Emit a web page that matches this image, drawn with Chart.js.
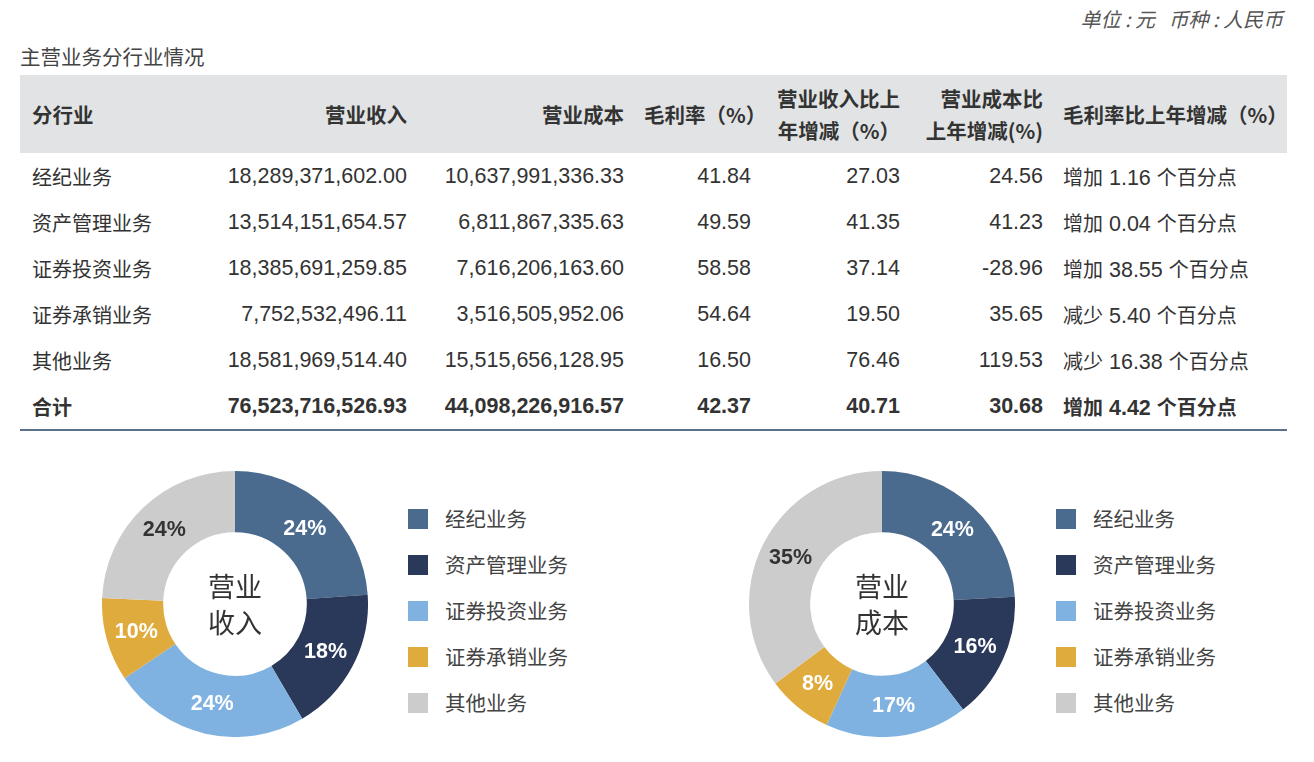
<!DOCTYPE html>
<html>
<head>
<meta charset="utf-8">
<script src="https://cdn.jsdelivr.net/npm/chart.js@4"></script>
<style>
  body { margin: 0; width: 1314px; height: 762px; background: #fff; position: relative; overflow: hidden;
         font-family: "Liberation Sans", "Noto Sans CJK SC", sans-serif; color: #333; }
  .cjk { font-family: "Noto Sans CJK SC", sans-serif; }
  #unit { position: absolute; right: 31px; top: 4px; font-size: 20px; color: #555; font-style: italic; white-space: pre; }
  #title { position: absolute; left: 20px; top: 41px; font-size: 20.5px; color: #444; }
  table { position: absolute; left: 20px; top: 75px; width: 1267px; border-collapse: collapse; table-layout: fixed; }
  th { background: #e2e3e4; height: 78px; font-size: 20.5px; font-weight: bold; color: #333; padding: 0 10px; line-height: 32px; white-space: nowrap; }
  td { height: 46px; font-size: 21.5px; color: #333; padding: 0 10px; white-space: nowrap; }
  td.cjk, td span.cjk { font-size: 20px; }
  .l { text-align: left; padding-left: 12px; }
  .r { text-align: right; }
  .last { text-align: left; padding-left: 10px; }
  tr.total td { font-weight: bold; }
  tr.total { border-bottom: 2px solid #5b7189; }
  .donut { position: absolute; width: 266px; height: 266px; top: 471px; }
  .legend { position: absolute; top: 507px; font-size: 20.5px; color: #444; }
  .legend div { height: 46px; display: flex; align-items: flex-start; }
  .legend span.box { display: inline-block; width: 20px; height: 20px; margin-top: 2px; margin-right: 17px; }
  .legend span.txt { line-height: 23px; }
</style>
</head>
<body>
<div id="unit" class="cjk">单位 : 元   币种 : 人民币</div>
<div id="title" class="cjk">主营业务分行业情况</div>
<table id="tbl"></table>

<div class="donut" style="left:102px"><canvas id="revChart"></canvas></div>
<div class="donut" style="left:749px"><canvas id="costChart"></canvas></div>
<div class="legend cjk" id="legend1" style="left:408px"></div>
<div class="legend cjk" id="legend2" style="left:1056px"></div>

<script>
// 数据
const categories = ["经纪业务", "资产管理业务", "证券投资业务", "证券承销业务", "其他业务"];
const revenue = [18289371602.00, 13514151654.57, 18385691259.85, 7752532496.11, 18581969514.40];
const cost = [10637991336.33, 6811867335.63, 7616206163.60, 3516505952.06, 15515656128.95];
const grossMargin = [41.84, 49.59, 58.58, 54.64, 16.50];
const revenueChange = [27.03, 41.35, 37.14, 19.50, 76.46];
const costChange = [24.56, 41.23, -28.96, 35.65, 119.53];
const marginChange = ["增加 1.16", "增加 0.04", "增加 38.55", "减少 5.40", "减少 16.38"];
const total = ["合计", "76,523,716,526.93", "44,098,226,916.57", "42.37", "40.71", "30.68", "增加 4.42"];
const revenuePctLabels = ["24%", "18%", "24%", "10%", "24%"];
const costPctLabels = ["24%", "16%", "17%", "8%", "35%"];

const colors = ["#4a6a8e", "#2a3859", "#7fb2e0", "#e0ab3d", "#cccccc"];

// 表格
const fmt = v => v.toLocaleString("en-US", { minimumFractionDigits: 2, maximumFractionDigits: 2 });
const cjkNum = s => s.replace(/^(\S+)\s/, '<span class="cjk">$1</span> ') + ' <span class="cjk">个百分点</span>';

let html = '<colgroup><col style="width:180px"><col style="width:217px"><col style="width:217px">' +
  '<col style="width:127px"><col style="width:149px"><col style="width:143px"><col style="width:234px"></colgroup>';
html += '<tr class="cjk"><th class="l">分行业</th><th class="r">营业收入</th><th class="r">营业成本</th>' +
  '<th class="r" style="padding-right:9px">毛利率（%）</th><th class="r">营业收入比上<br>年增减（%）</th>' +
  '<th class="r">营业成本比<br>上年增减(%)</th><th class="last">毛利率比上年增减（%）</th></tr>';
categories.forEach((c, i) => {
  html += '<tr><td class="l cjk">' + c + '</td><td class="r">' + fmt(revenue[i]) + '</td><td class="r">' + fmt(cost[i]) +
    '</td><td class="r">' + grossMargin[i].toFixed(2) + '</td><td class="r">' + revenueChange[i].toFixed(2) +
    '</td><td class="r">' + costChange[i].toFixed(2) + '</td><td class="last">' + cjkNum(marginChange[i]) + '</td></tr>';
});
html += '<tr class="total"><td class="l cjk">' + total[0] + '</td>';
for (let k = 1; k < 6; k++) html += '<td class="r">' + total[k] + '</td>';
html += '<td class="last">' + cjkNum(total[6]) + '</td></tr>';
document.getElementById("tbl").innerHTML = html;

// 图例
["legend1", "legend2"].forEach(id => {
  document.getElementById(id).innerHTML = categories.map((c, i) =>
    '<div><span class="box" style="background:' + colors[i] + '"></span><span class="txt">' + c + '</span></div>').join("");
});

// 标签 + 中心文字
const donutText = {
  id: "donutText",
  afterDatasetsDraw(chart, args, opts) {
    const ctx = chart.ctx;
    const meta = chart.getDatasetMeta(0);
    ctx.save();
    ctx.textAlign = "center";
    ctx.textBaseline = "middle";
    ctx.font = "bold 21.5px 'Liberation Sans', Arial, sans-serif";
    meta.data.forEach((arc, i) => {
      const p = arc.getCenterPoint();
      ctx.fillStyle = i === 4 ? "#333" : "#fff";
      ctx.fillText(opts.labels[i], p.x, p.y);
    });
    const cx = (chart.chartArea.left + chart.chartArea.right) / 2;
    const cy = (chart.chartArea.top + chart.chartArea.bottom) / 2;
    ctx.font = "27px 'Noto Sans CJK SC', sans-serif";
    ctx.fillStyle = "#333";
    ctx.fillText(opts.center[0], cx, cy - 17);
    ctx.fillText(opts.center[1], cx, cy + 19);
    ctx.restore();
  }
};

function makeDonut(id, values, labels, center) {
  new Chart(document.getElementById(id), {
    type: "doughnut",
    data: {
      labels: categories,
      datasets: [{ data: values, backgroundColor: colors, borderWidth: 0 }]
    },
    options: {
      responsive: true,
      maintainAspectRatio: false,
      animation: false,
      cutout: "54%",
      layout: { padding: 0 },
      plugins: {
        legend: { display: false },
        tooltip: { enabled: false },
        donutText: { labels: labels, center: center }
      }
    },
    plugins: [donutText]
  });
}

makeDonut("revChart", revenue, revenuePctLabels, ["营业", "收入"]);
makeDonut("costChart", cost, costPctLabels, ["营业", "成本"]);
</script>
</body>
</html>
